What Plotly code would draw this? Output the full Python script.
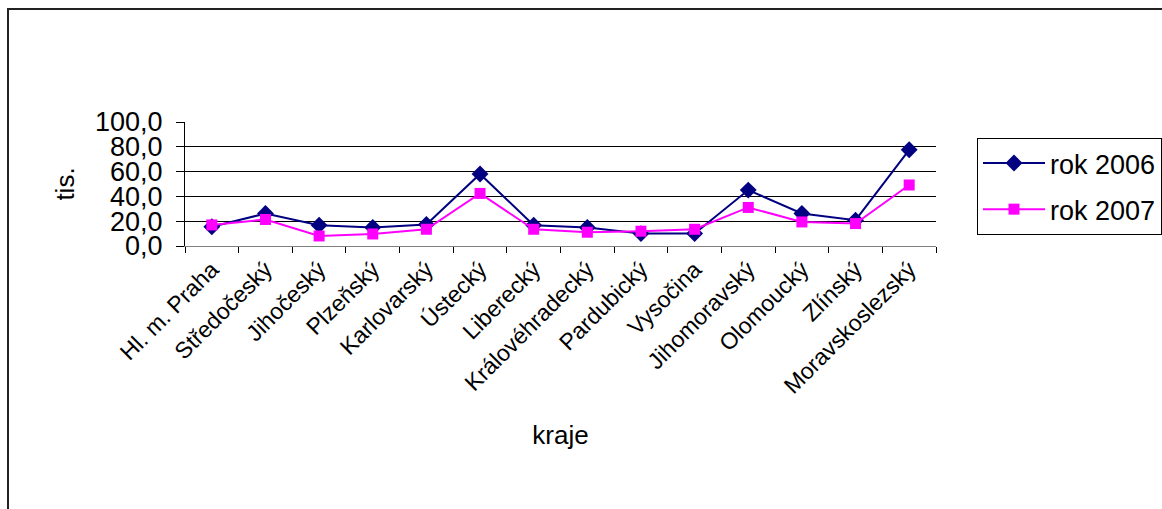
import plotly.graph_objects as go

# Regions of the Czech Republic and values for two years (thousands)
kraje = ["Hl. m. Praha", "Středočeský", "Jihočeský", "Plzeňský", "Karlovarský",
         "Ústecký", "Liberecký", "Královéhradecký", "Pardubický", "Vysočina",
         "Jihomoravský", "Olomoucký", "Zlínský", "Moravskoslezský"]
rok_2006 = [15.5, 26.2, 16.8, 14.9, 17.3, 58.1, 16.8, 14.9, 10.0, 10.0, 45.1, 26.2, 20.8, 77.6]
rok_2007 = [17.0, 21.4, 8.1, 9.7, 13.5, 42.4, 13.5, 11.1, 11.9, 13.5, 31.1, 19.4, 18.1, 49.2]
y_ticks = [0, 20, 40, 60, 80, 100]
y_tick_text = ["0,0", "20,0", "40,0", "60,0", "80,0", "100,0"]

W, H = 1162, 509
L, R, T, B = 185, 226, 122, 263
FONT = "Liberation Sans, Arial, sans-serif"

fig = go.Figure()
fig.add_trace(go.Scatter(
    x=kraje, y=rok_2006, name="rok 2006", mode="lines+markers", legendgroup="a",
    line=dict(color="#000080", width=2),
    marker=dict(symbol="diamond", size=13, color="#000080"),
))
fig.add_trace(go.Scatter(
    x=kraje, y=rok_2007, name="rok 2007", mode="lines+markers", legendgroup="b",
    line=dict(color="#FF00FF", width=2),
    marker=dict(symbol="square", size=11, color="#FF00FF"),
))

pw = W - L - R
ph = H - T - B

def px_x(px):
    return (px - L) / pw

def px_y(py):
    return (H - B - py) / ph

# outer chart frame
fig.add_shape(type="rect", xref="paper", yref="paper",
              x0=px_x(8), x1=px_x(W + 20), y0=px_y(H + 20), y1=px_y(9),
              line=dict(color="#222222", width=2), layer="below")

fig.update_layout(
    width=W, height=H,
    margin=dict(l=L, r=R, t=T, b=B, autoexpand=False),
    paper_bgcolor="white", plot_bgcolor="white",
    font=dict(family=FONT, color="black"),
    showlegend=True,
    legend=dict(
        x=px_x(977), y=px_y(138), xanchor="left", yanchor="top",
        bordercolor="black", borderwidth=1, bgcolor="white",
        font=dict(size=27, family=FONT), itemwidth=62, tracegroupgap=8,
    ),
    xaxis=dict(
        type="category", tickangle=-45, tickson="boundaries",
        ticks="outside", ticklen=6, tickcolor="black",
        showline=True, linecolor="#808080", linewidth=1,
        showgrid=False, tickfont=dict(size=23),
        title=dict(text="kraje", font=dict(size=26), standoff=28),
        range=[-0.5, len(kraje) - 0.5], automargin=False,
    ),
    yaxis=dict(
        range=[0, 100], tickvals=y_ticks, ticktext=y_tick_text,
        ticks="outside", ticklen=8, tickcolor="black",
        showline=True, linecolor="black", linewidth=1,
        showgrid=True, gridcolor="black", gridwidth=1,
        zeroline=False, tickfont=dict(size=27), ticklabelstandoff=8,
        title=dict(text="tis.", font=dict(size=26), standoff=12),
        automargin=False,
    ),
)

fig.write_html("out.html")
